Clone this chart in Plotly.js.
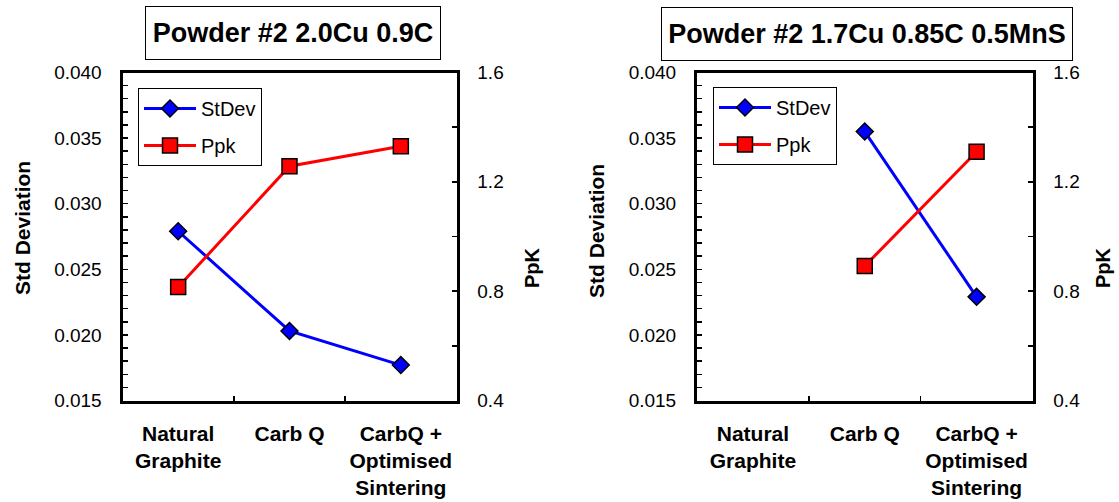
<!DOCTYPE html>
<html>
<head>
<meta charset="utf-8">
<script src="https://cdn.plot.ly/plotly-3.0.1.min.js"></script>
<style>html,body{margin:0;padding:0;background:#fff;}#chart{width:1119px;height:502px;}</style>
</head>
<body>
<div id="chart"></div>
<script>
// ---- data ----
const categories = ["Natural<br>Graphite", "Carb Q", "CarbQ +<br>Optimised<br>Sintering"];
const leftTitle = "Powder #2 2.0Cu 0.9C";
const rightTitle = "Powder #2 1.7Cu 0.85C 0.5MnS";
const leftStDev = [0.0279, 0.0203, 0.0177];
const leftPpk = [0.815, 1.257, 1.33];
const rightStDev = [null, 0.0355, 0.0229];
const rightPpk = [null, 0.892, 1.31];
const stdTicks = [0.015, 0.020, 0.025, 0.030, 0.035, 0.040];
const ppkTicks = [0.4, 0.8, 1.2, 1.6];

const FONT = "Liberation Sans, Arial, sans-serif";
const W = 1119, H = 502;
const px = v => v / W;
const py = v => 1 - v / H;

const yDom = [py(400.5), py(72.5)];
const xDomL = [px(122.5), px(456.5)];
const xDomR = [px(697), px(1032.5)];

function stdTrace(y, xa, ya, lg) {
  return {x: categories, y: y, xaxis: xa, yaxis: ya, name: "StDev", legend: lg, legendgroup: "a",
    type: "scatter", mode: "lines+markers", connectgaps: false,
    line: {color: "#0000FF", width: 3},
    marker: {symbol: "diamond", size: 13, color: "#0000FF", line: {color: "#000", width: 1.5}}};
}
function ppkTrace(y, xa, ya, lg) {
  return {x: categories, y: y, xaxis: xa, yaxis: ya, name: "Ppk", legend: lg, legendgroup: "b",
    type: "scatter", mode: "lines+markers", connectgaps: false,
    line: {color: "#FF0000", width: 3},
    marker: {symbol: "square", size: 15, color: "#FF0000", line: {color: "#000", width: 1.5}}};
}

const data = [
  stdTrace(leftStDev, "x", "y", "legend"),
  ppkTrace(leftPpk, "x", "y2", "legend"),
  stdTrace(rightStDev, "x2", "y3", "legend2"),
  ppkTrace(rightPpk, "x2", "y4", "legend2")
];

function xAxis(dom, anchor) {
  return {domain: dom, anchor: anchor, type: "category", categoryarray: categories,
    range: [-0.5, 2.5], showline: true, linewidth: 3, linecolor: "#000", mirror: true,
    ticks: "inside", tickson: "boundaries", ticklen: 5, tickwidth: 1.5, tickcolor: "#000",
    tickangle: 0, automargin: false,
    showgrid: false, zeroline: false, fixedrange: true, ticklabelstandoff: 12,
    tickfont: {family: FONT, size: 21, color: "#000", weight: "bold"}};
}
function stdAxis(anchor) {
  return {domain: yDom, anchor: anchor, range: [0.015, 0.040], tickvals: stdTicks, tickformat: ".3f",
    showline: true, linewidth: 3, linecolor: "#000", ticks: "inside", ticklen: 5, tickwidth: 1.5, tickcolor: "#000",
    minor: {dtick: 0.001, tick0: 0.015, ticks: "inside", ticklen: 5, tickwidth: 1.5, tickcolor: "#000", showgrid: false},
    showgrid: false, zeroline: false, fixedrange: true, ticklabelstandoff: 14, automargin: false,
    tickfont: {family: FONT, size: 19, color: "#000"}};
}
function ppkAxis(anchor, over) {
  return {domain: yDom, anchor: anchor, overlaying: over, side: "right", range: [0.4, 1.6], tickvals: ppkTicks, tickformat: ".1f",
    showline: true, linewidth: 3, linecolor: "#000", ticks: "inside", ticklen: 5, tickwidth: 1.5, tickcolor: "#000",
    minor: {dtick: 0.2, tick0: 0.4, ticks: "inside", ticklen: 5, tickwidth: 1.5, tickcolor: "#000", showgrid: false},
    showgrid: false, zeroline: false, fixedrange: true, ticklabelstandoff: 14, automargin: false,
    tickfont: {family: FONT, size: 19, color: "#000"}};
}
function legendBox(x, y) {
  return {x: x, y: y, xanchor: "left", yanchor: "top", xref: "paper", yref: "paper",
    bgcolor: "#fff", bordercolor: "#000", borderwidth: 1, traceorder: "grouped", tracegroupgap: 8,
    itemwidth: 52,
    font: {family: FONT, size: 20, color: "#000"}};
}
function titleBox(text, cx, cy, w, h) {
  return {text: "<b>" + text + "</b>", x: px(cx), y: py(cy), xref: "paper", yref: "paper",
    xanchor: "center", yanchor: "middle", showarrow: false, width: w, height: h,
    bordercolor: "#000", borderwidth: 1, borderpad: 0, bgcolor: "#fff",
    font: {family: FONT, size: 27, color: "#000"}};
}
function axisTitle(text, cx, cy, size) {
  return {text: "<b>" + text + "</b>", x: px(cx), y: py(cy), xref: "paper", yref: "paper",
    xanchor: "center", yanchor: "middle", showarrow: false, textangle: -90,
    font: {family: FONT, size: size, color: "#000"}};
}

const layout = {
  width: W, height: H, margin: {l: 0, r: 0, t: 0, b: 0},
  paper_bgcolor: "#fff", plot_bgcolor: "#fff",
  font: {family: FONT, color: "#000"},
  xaxis: xAxis(xDomL, "y"),
  yaxis: stdAxis("x"),
  yaxis2: ppkAxis("x", "y"),
  xaxis2: xAxis(xDomR, "y3"),
  yaxis3: stdAxis("x2"),
  yaxis4: ppkAxis("x2", "y3"),
  legend: legendBox(px(138), py(88)),
  legend2: legendBox(px(713), py(87)),
  annotations: [
    titleBox(leftTitle, 292.5, 33.5, 294, 52),
    titleBox(rightTitle, 866.5, 34.5, 410, 52),
    axisTitle("Std Deviation", 22, 228, 21),
    axisTitle("PpK", 532, 268, 20),
    axisTitle("Std Deviation", 596, 231, 21),
    axisTitle("PpK", 1103, 268, 20)
  ],
  showlegend: true
};

Plotly.newPlot("chart", data, layout, {displayModeBar: false, staticPlot: true});
</script>
</body>
</html>
